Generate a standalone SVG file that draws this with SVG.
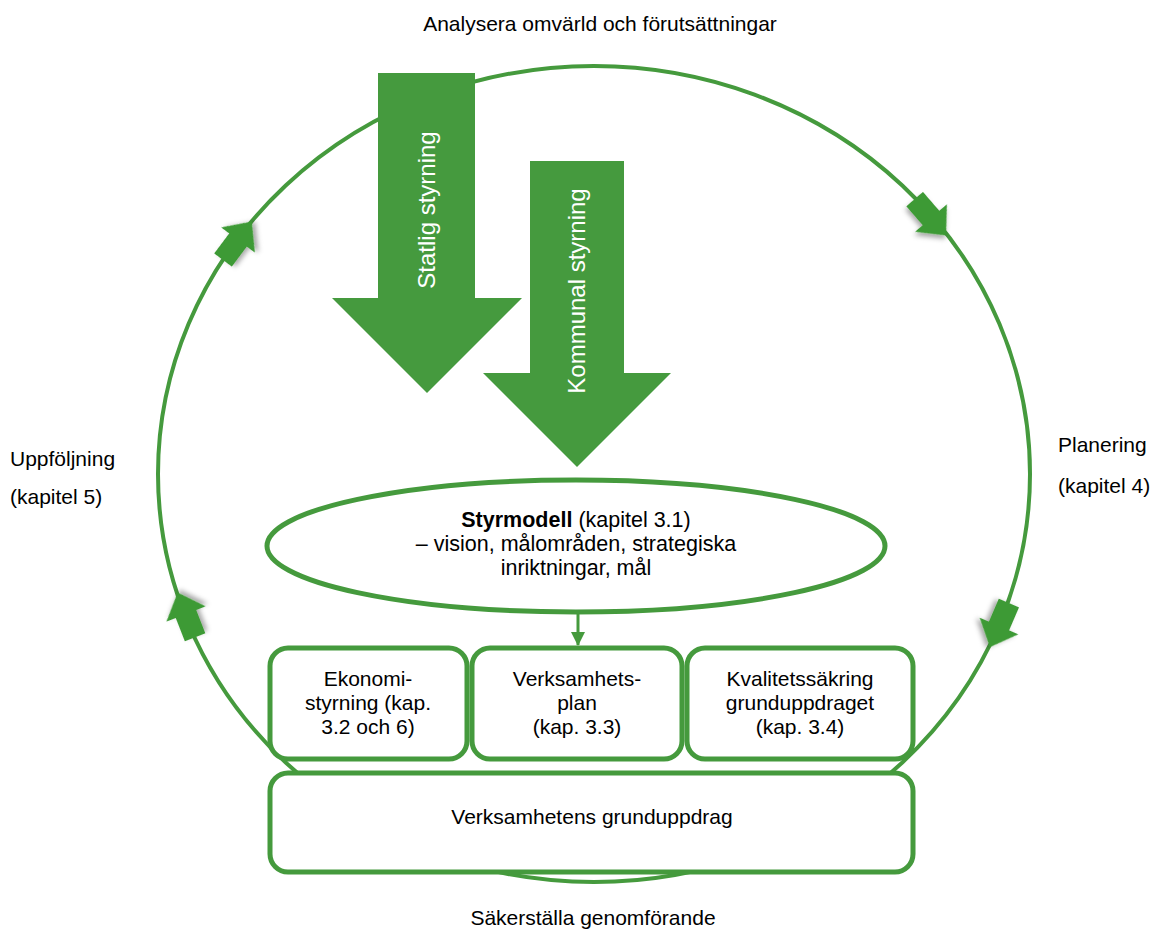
<svg xmlns="http://www.w3.org/2000/svg" width="1152" height="932" viewBox="0 0 1152 932">
<style>
.t{font-family:"Liberation Sans",Arial,sans-serif;font-size:21px;fill:#000}
.e{font-size:21.5px}
.c{text-anchor:middle}
.w{font-family:"Liberation Sans",Arial,sans-serif;font-size:24px;fill:#fff;text-anchor:middle}
.box{fill:#fff;stroke:#459a3d;stroke-width:5}
.big{fill:#459a3e}
.small{fill:#3c9a34;filter:url(#sh)}
</style>
<defs>
<filter id="sh" x="-50%" y="-50%" width="200%" height="200%">
<feDropShadow dx="2" dy="3" stdDeviation="2.5" flood-color="#000" flood-opacity="0.35"/>
</filter>
<path id="ca" d="M-25,-11 L0,-11 L0,-21 L23,0 L0,21 L0,11 L-25,11 Z"/>
<marker id="ah" markerWidth="14" markerHeight="16" refX="13" refY="7" orient="auto" markerUnits="userSpaceOnUse">
<path d="M0,0 L14,7 L0,14 Z" fill="#459a3d"/>
</marker>
</defs>

<g id="cycle">
<ellipse cx="594" cy="474" rx="436" ry="408" fill="none" stroke="#459a3d" stroke-width="4"/>
<use href="#ca" class="small" transform="translate(238,240) rotate(-53.2)"/>
<use href="#ca" class="small" transform="translate(931,218) rotate(49.1)"/>
<use href="#ca" class="small" transform="translate(999,626) rotate(113.3)"/>
<use href="#ca" class="small" transform="translate(186,614) rotate(-111.3)"/>
</g>

<g id="labels">
<text class="t c" x="600" y="31">Analysera omvärld och förutsättningar</text>
<text class="t" x="10" y="466">Uppföljning</text>
<text class="t" x="10" y="504">(kapitel 5)</text>
<text class="t" x="1058" y="452">Planering</text>
<text class="t" x="1058" y="493">(kapitel 4)</text>
<text class="t c" x="593" y="925">Säkerställa genomförande</text>
</g>

<g id="statlig">
<path class="big" d="M378,73 L475,73 L475,298 L522,298 L427,393 L332,298 L378,298 Z"/>
<text class="w" transform="translate(435,210) rotate(-90)">Statlig styrning</text>
</g>

<g id="kommunal">
<path class="big" d="M530,161 L624,161 L624,373 L671,373 L577,467 L483,373 L530,373 Z"/>
<text class="w" transform="translate(585,291) rotate(-90)">Kommunal styrning</text>
</g>

<g id="styrmodell">
<ellipse cx="576" cy="546" rx="309" ry="66" class="box"/>
<text class="t e c" x="576" y="527"><tspan font-weight="bold">Styrmodell</tspan> (kapitel 3.1)</text>
<text class="t e c" x="576" y="551">– vision, målområden, strategiska</text>
<text class="t e c" x="576" y="575">inriktningar, mål</text>
</g>

<g id="connectors">
<line x1="578" y1="613" x2="578" y2="645" stroke="#459a3d" stroke-width="3" marker-end="url(#ah)"/>
</g>

<g id="ekonomi">
<rect x="270" y="648" width="197" height="111" rx="18" class="box"/>
<text class="t c" x="368" y="686">Ekonomi-</text>
<text class="t c" x="368" y="710">styrning (kap.</text>
<text class="t c" x="368" y="734">3.2 och 6)</text>
</g>

<g id="verksamhetsplan">
<rect x="472" y="648" width="210" height="111" rx="18" class="box"/>
<text class="t c" x="577" y="686">Verksamhets-</text>
<text class="t c" x="577" y="710">plan</text>
<text class="t c" x="577" y="734">(kap. 3.3)</text>
</g>

<g id="kvalitet">
<rect x="687" y="648" width="226" height="111" rx="18" class="box"/>
<text class="t c" x="800" y="686">Kvalitetssäkring</text>
<text class="t c" x="800" y="710">grunduppdraget</text>
<text class="t c" x="800" y="734">(kap. 3.4)</text>
</g>

<g id="grunduppdrag">
<rect x="270" y="773" width="643" height="99" rx="18" class="box"/>
<text class="t c" x="592" y="824">Verksamhetens grunduppdrag</text>
</g>
</svg>
